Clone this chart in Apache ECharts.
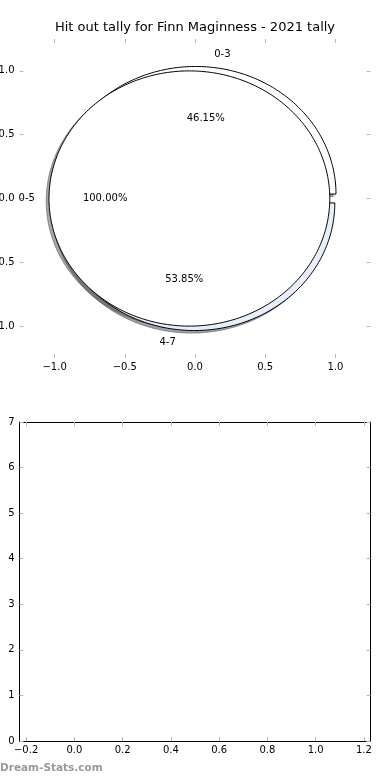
<!DOCTYPE html>
<html><head><meta charset="utf-8">
<script src="https://cdn.jsdelivr.net/npm/echarts@6/dist/echarts.min.js"></script>
<style>html,body{margin:0;padding:0;background:#fff}#c{width:390px;height:780px}</style>
</head><body><div id="c"></div>
<script>
const titleText = 'Hit out tally for Finn Maginness - 2021 tally';
const outerCategories = ['0-3', '4-7'];
const outerValues = [6, 7];
const innerCategories = ['0-5'];
const innerValues = [13];
const pieTicks = [-1, -0.5, 0, 0.5, 1];
const barXTicks = [-0.2, 0, 0.2, 0.4, 0.6, 0.8, 1.0, 1.2];
const barYTicks = [0, 1, 2, 3, 4, 5, 6, 7];
const watermark = 'Dream-Stats.com';

const FONT = 'DejaVu Sans';
const outerColors = ['#ffffff', '#e8eefc'];
const innerColors = ['#ffffff'];
const OUTER = {radius: 1.0, explode: 0.035};
const INNER = {radius: 1.0, explode: 0.04};

function geom(values, idx, radius, explode) {
  const total = values.reduce((a, b) => a + b, 0);
  let acc = 0;
  for (let i = 0; i < idx; i++) acc += values[i];
  const a0 = 360 * acc / total, a1 = a0 + 360 * values[idx] / total;
  const mid = (a0 + a1) / 2 * Math.PI / 180;
  return {a0, a1, mid, ox: explode * Math.cos(mid), oy: explode * Math.sin(mid), frac: values[idx] / total};
}

function wedgePoints(api, g, radius, dx, dy) {
  const pts = [];
  const full = g.frac >= 0.9999;
  if (!full) pts.push(api.coord([g.ox + dx, g.oy + dy]));
  const n = Math.max(8, Math.ceil((g.a1 - g.a0) / 1));
  for (let k = 0; k <= n; k++) {
    const a = (g.a0 + (g.a1 - g.a0) * k / n) * Math.PI / 180;
    pts.push(api.coord([g.ox + dx + radius * Math.cos(a), g.oy + dy + radius * Math.sin(a)]));
  }
  return pts;
}

function shadowSeries(values, cfg, colors, z) {
  return {
    type: 'custom', xAxisIndex: 0, yAxisIndex: 0, z, clip: false, silent: true,
    encode: {x: 0, y: 1},
    data: values.map((v, i) => [i, v]),
    renderItem(params, api) {
      const g = geom(values, params.dataIndex, cfg.radius, cfg.explode);
      const c = echarts.color.parse(colors[params.dataIndex]);
      const col = 'rgba(' + Math.round(c[0] * 0.3) + ',' + Math.round(c[1] * 0.3) + ',' + Math.round(c[2] * 0.3) + ',0.5)';
      return {type: 'polygon', shape: {points: wedgePoints(api, g, cfg.radius, -0.02, -0.02)},
        style: {fill: col, stroke: col, lineWidth: 1}};
    }
  };
}

function wedgeSeries(values, cfg, colors, z) {
  return {
    type: 'custom', xAxisIndex: 0, yAxisIndex: 0, z, clip: false, silent: true,
    encode: {x: 0, y: 1},
    data: values.map((v, i) => [i, v]),
    renderItem(params, api) {
      const g = geom(values, params.dataIndex, cfg.radius, cfg.explode);
      return {type: 'polygon', shape: {points: wedgePoints(api, g, cfg.radius, 0, 0)},
        style: {fill: colors[params.dataIndex], stroke: '#000', lineWidth: 1}};
    }
  };
}

function labelSeries(values, cats, cfg, z) {
  return {
    type: 'custom', xAxisIndex: 0, yAxisIndex: 0, z, clip: false, silent: true,
    encode: {x: 0, y: 1},
    data: values.map((v, i) => [i, v]),
    renderItem(params, api) {
      const g = geom(values, params.dataIndex, cfg.radius, cfg.explode);
      const lx = g.ox + 1.1 * cfg.radius * Math.cos(g.mid);
      const ly = g.oy + 1.1 * cfg.radius * Math.sin(g.mid);
      const px = g.ox + 0.6 * cfg.radius * Math.cos(g.mid);
      const py = g.oy + 0.6 * cfg.radius * Math.sin(g.mid);
      const p1 = api.coord([lx, ly]), p2 = api.coord([px, py]);
      return {type: 'group', children: [
        {type: 'text', x: p1[0], y: p1[1], style: {text: cats[params.dataIndex], fill: '#000',
          font: '10px "' + FONT + '"', align: lx < 0 ? 'right' : 'left', verticalAlign: 'middle'}},
        {type: 'text', x: p2[0], y: p2[1], style: {text: (g.frac * 100).toFixed(2) + '%', fill: '#000',
          font: '10px "' + FONT + '"', align: 'center', verticalAlign: 'middle'}}
      ]};
    }
  };
}

const fmt1 = v => (v < 0 ? '\u2212' : '') + Math.abs(v).toFixed(1);
const labelStyle = {color: '#000', fontSize: 10, fontFamily: FONT};
const tickStyle = {show: true, inside: true, length: 4, lineStyle: {color: '#b8b8b8', width: 1}};

function xAx(grid, pos, min, max, ticks, showLabel, showLine, fmt) {
  return {type: 'value', gridIndex: grid, position: pos, min, max,
    axisLine: {show: showLine, onZero: false, lineStyle: {color: '#000', width: 1}},
    axisTick: Object.assign({customValues: ticks}, tickStyle),
    axisLabel: Object.assign({show: showLabel, customValues: ticks, formatter: fmt, margin: 4}, labelStyle),
    splitLine: {show: false}};
}

const chart = echarts.init(document.getElementById('c'), null, {renderer: 'canvas'});
chart.setOption({
  animation: false,
  backgroundColor: '#fff',
  title: {text: titleText, left: 'center', top: 21, padding: 0,
    textStyle: {fontSize: 13, fontWeight: 'normal', fontFamily: FONT, color: '#000'}},
  grid: [
    {left: 19.5, right: 19.5, top: 39, height: 319, containLabel: false, outerBoundsMode: 'none'},
    {left: 19.5, right: 19.5, top: 422, bottom: 39, containLabel: false, outerBoundsMode: 'none'}
  ],
  xAxis: [
    xAx(0, 'bottom', -1.25, 1.25, pieTicks, true, false, fmt1),
    xAx(0, 'top', -1.25, 1.25, pieTicks, false, false, fmt1),
    xAx(1, 'bottom', -0.2275, 1.2275, barXTicks, true, true, fmt1),
    xAx(1, 'top', -0.2275, 1.2275, barXTicks, false, true, fmt1)
  ],
  yAxis: [
    Object.assign(xAx(0, 'left', -1.25, 1.25, pieTicks, true, false, fmt1), {axisLabel: Object.assign({show: true, customValues: pieTicks, formatter: fmt1, margin: 5}, labelStyle)}),
    xAx(0, 'right', -1.25, 1.25, pieTicks, false, false, fmt1),
    Object.assign(xAx(1, 'left', 0, 7, barYTicks, true, true, v => String(v)), {axisLabel: Object.assign({show: true, customValues: barYTicks, formatter: v => String(v), margin: 5}, labelStyle)}),
    xAx(1, 'right', 0, 7, barYTicks, false, true, v => String(v))
  ],
  graphic: [{type: 'text', left: 0, top: 763, style: {text: watermark, fill: '#999', font: 'bold 10.5px "' + FONT + '"'}}],
  series: [
    shadowSeries(outerValues, OUTER, outerColors, 1),
    shadowSeries(innerValues, INNER, innerColors, 1),
    wedgeSeries(outerValues, OUTER, outerColors, 2),
    wedgeSeries(innerValues, INNER, innerColors, 3),
    labelSeries(outerValues, outerCategories, OUTER, 4),
    labelSeries(innerValues, innerCategories, INNER, 4),
    {type: 'line', xAxisIndex: 2, yAxisIndex: 2, data: []}
  ]
});
</script></body></html>
